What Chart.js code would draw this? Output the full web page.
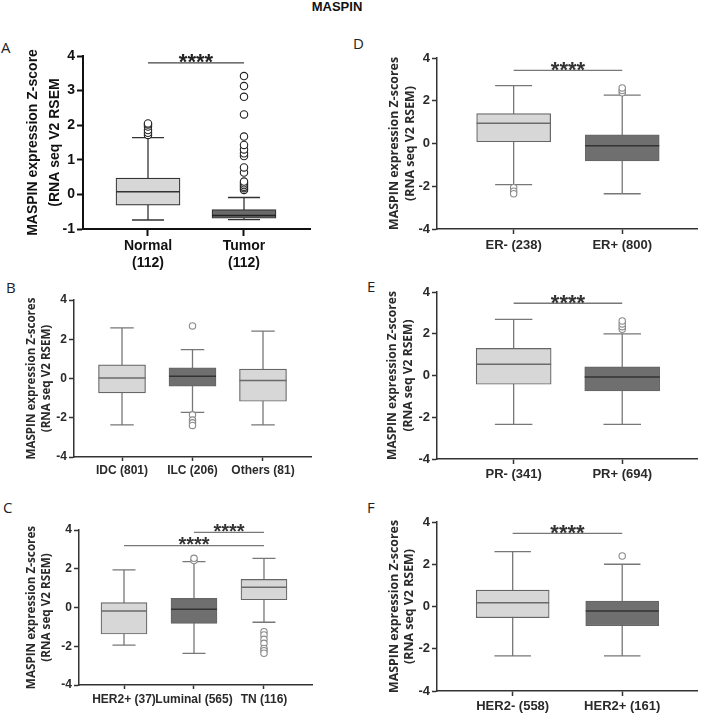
<!DOCTYPE html>
<html>
<head>
<meta charset="utf-8">
<title>MASPIN</title>
<script src="https://cdn.jsdelivr.net/npm/chart.js@4.4.1/dist/chart.umd.min.js"></script>
<style>
  html, body { margin: 0; padding: 0; background: #fff; }
  #fig { position: relative; width: 703px; height: 718px; overflow: hidden; font-family: 'Liberation Sans', Arial, sans-serif; }
  #fig canvas { position: absolute; }
  .main-title { position: absolute; left: 0; top: -1px; width: 674px; text-align: center; font-weight: bold; font-size: 13px; color: #111; }
  .tag { position: absolute; font-family: 'Open Sans', sans-serif; font-size: 15px; color: #222; line-height: 1; }
</style>
</head>
<body>
<div id="fig">
  <div class="main-title">MASPIN</div>
  <div class="tag" style="left:1px;top:40px">A</div>
  <div class="tag" style="left:6px;top:280px">B</div>
  <div class="tag" style="left:3px;top:500px">C</div>
  <div class="tag" style="left:353px;top:36px">D</div>
  <div class="tag" style="left:367px;top:279px">E</div>
  <div class="tag" style="left:367px;top:500px">F</div>
  <canvas id="chartA" width="320" height="256" style="left:0;top:30px"></canvas>
  <canvas id="chartB" width="320" height="205" style="left:0;top:275px"></canvas>
  <canvas id="chartC" width="320" height="218" style="left:0;top:500px"></canvas>
  <canvas id="chartD" width="343" height="230" style="left:360px;top:30px"></canvas>
  <canvas id="chartE" width="343" height="220" style="left:360px;top:265px"></canvas>
  <canvas id="chartF" width="343" height="223" style="left:360px;top:495px"></canvas>
</div>
<script>
/* ---------- data (box = [low whisker, Q1, median, Q3, high whisker]) ---------- */

// A. Normal vs Tumor
const A_LABELS = [['Normal', '(112)'], ['Tumor', '(112)']];
const A_BOXES = [[-0.74, -0.31, 0.08, 0.47, 1.64], [-0.73, -0.69, -0.61, -0.44, -0.09]];
const A_OUTLIERS = [
  [1.72, 1.78, 1.86, 1.96, 2.02, 2.05],
  [0.13, 0.18, 0.22, 0.27, 0.32, 0.37, 0.63, 0.78, 1.11, 1.19, 1.30, 1.43, 1.67, 2.31, 2.82, 3.13, 3.42]
];
const A_SIG = [[0, 1, 3.8]];

// B. histology
const B_LABELS = ['IDC (801)', 'ILC (206)', 'Others (81)'];
const B_BOXES = [[-2.36, -0.73, 0.02, 0.70, 2.58], [-1.73, -0.39, 0.12, 0.55, 1.47], [-2.36, -1.16, -0.10, 0.48, 2.41]];
const B_OUTLIERS = [[], [2.68, -1.85, -2.12, -2.26, -2.39], []];
const B_SIG = [];

// C. subtype
const C_LABELS = ['HER2+ (37)', 'Luminal (565)', 'TN (116)'];
const C_BOXES = [[-1.94, -1.37, -0.18, 0.25, 1.94], [-2.37, -0.82, -0.09, 0.47, 2.37], [-0.76, 0.40, 1.04, 1.45, 2.54]];
const C_OUTLIERS = [[], [2.42, 2.54], [-1.25, -1.42, -1.64, -1.85, -2.11, -2.23, -2.36]];
const C_SIG = [[1, 2, 3.88], [0, 2, 3.19]];

// D. ER status
const D_LABELS = ['ER- (238)', 'ER+ (800)'];
const D_BOXES = [[-1.92, 0.08, 0.95, 1.40, 2.71], [-2.35, -0.81, -0.11, 0.41, 2.26]];
const D_OUTLIERS = [[-2.07, -2.23, -2.35], [2.37, 2.48, 2.60]];
const D_SIG = [[0, 1, 3.42]];

// E. PR status
const E_LABELS = ['PR- (341)', 'PR+ (694)'];
const E_BOXES = [[-2.34, -0.42, 0.54, 1.30, 2.69], [-2.34, -0.74, -0.07, 0.41, 1.99]];
const E_OUTLIERS = [[], [2.21, 2.34, 2.47, 2.61]];
const E_SIG = [[0, 1, 3.46]];

// F. HER2 status
const F_LABELS = ['HER2- (558)', 'HER2+ (161)'];
const F_BOXES = [[-2.34, -0.53, 0.18, 0.78, 2.60], [-2.34, -0.91, -0.21, 0.26, 2.00]];
const F_OUTLIERS = [[], [2.39]];
const F_SIG = [[0, 1, 3.46]];

/* ---------- styles ---------- */
const LIGHT = '#d7d7d7';
const DARK = '#6f6f6f';
const FONT = "'Liberation Sans', Arial, sans-serif";
const TITLE_FONT = "'Open Sans', sans-serif";
const Y_TITLE = ['MASPIN expression Z-scores', '(RNA seq V2 RSEM)'];

const PRISM = { axis: '#111', axisW: 2, text: '#111', box: '#333', whisker: '#333', medLight: '#333', medDark: '#222',
  dot: '#222', dotR: 3.7, sig: '#444', star: '#222' };
const GREY = { axis: '#333', axisW: 1.5, text: '#2a2a2a', box: '#666', whisker: '#777', medLight: '#6a6a6a', medDark: '#333',
  dot: '#8a8a8a', dotR: 3.2, sig: '#777', star: '#333' };

const PANELS = [
  { id: 'chartA', labels: A_LABELS, boxes: A_BOXES, outliers: A_OUTLIERS, sig: A_SIG, fills: [LIGHT, '#6a6a6a'], theme: PRISM,
    pad: { top: 26, right: 10 }, yWidth: 83, xHeight: 57, yMin: -1, yMax: 4, yStep: 1, xRange: [-0.677, 1.6875], boxW: 64,
    title: ['MASPIN expression Z-score', '(RNA seq V2 RSEM'], titleFont: FONT, titleSize: 14, titleLH: 22, titlePad: 22,
    tickSize: 14, yTick: [6, 2], xTick: [7, 1], starSize: 22 },
  { id: 'chartB', labels: B_LABELS, boxes: B_BOXES, outliers: B_OUTLIERS, sig: B_SIG, fills: [LIGHT, DARK, LIGHT], theme: GREY,
    pad: { top: 25, right: 9 }, yWidth: 74, xHeight: 23, yMin: -4, yMax: 4, yStep: 2, xRange: [-0.681, 2.681], boxW: 47,
    title: Y_TITLE, titleFont: TITLE_FONT, titleSize: 11.6, titleLH: 15, titlePad: 24.5, tickSize: 12, yTick: [5, 2], xTick: [4, 2], starSize: 20 },
  { id: 'chartC', labels: C_LABELS, boxes: C_BOXES, outliers: C_OUTLIERS, sig: C_SIG, fills: [LIGHT, DARK, LIGHT], theme: GREY,
    pad: { top: 30, right: 8 }, yWidth: 79, xHeight: 33, yMin: -4, yMax: 4, yStep: 2, xRange: [-0.643, 2.686], boxW: 46,
    title: Y_TITLE, titleFont: TITLE_FONT, titleSize: 11.7, titleLH: 15, titlePad: 24.5, tickSize: 12, yTick: [5, 2], xTick: [4, 3], starSize: 20 },
  { id: 'chartD', labels: D_LABELS, boxes: D_BOXES, outliers: D_OUTLIERS, sig: D_SIG, fills: [LIGHT, DARK], theme: GREY,
    pad: { top: 28, right: 4 }, yWidth: 77, xHeight: 31, yMin: -4, yMax: 4, yStep: 2, xRange: [-0.706, 1.697], boxW: 74,
    title: Y_TITLE, titleFont: TITLE_FONT, titleSize: 12.4, titleLH: 15.5, titlePad: 27, tickSize: 13, yTick: [5, 2], xTick: [5, 3], starSize: 22 },
  { id: 'chartE', labels: E_LABELS, boxes: E_BOXES, outliers: E_OUTLIERS, sig: E_SIG, fills: [LIGHT, DARK], theme: GREY,
    pad: { top: 27, right: 4 }, yWidth: 77, xHeight: 26, yMin: -4, yMax: 4, yStep: 2, xRange: [-0.706, 1.697], boxW: 75,
    title: Y_TITLE, titleFont: TITLE_FONT, titleSize: 12.1, titleLH: 16, titlePad: 25, tickSize: 13, yTick: [5, 2], xTick: [5, 2], starSize: 22 },
  { id: 'chartF', labels: F_LABELS, boxes: F_BOXES, outliers: F_OUTLIERS, sig: F_SIG, fills: [LIGHT, DARK], theme: GREY,
    pad: { top: 27, right: 4 }, yWidth: 77, xHeight: 27, yMin: -4, yMax: 4, yStep: 2, xRange: [-0.691, 1.691], boxW: 73,
    title: Y_TITLE, titleFont: TITLE_FONT, titleSize: 12.4, titleLH: 15, titlePad: 26.5, tickSize: 13, yTick: [5, 2], xTick: [5, 2], starSize: 22 }
];

// dataset order inside each chart
const OUTLIER_SET = 0;
const BOX_SET = 1;

/* ---------- whiskers, medians and significance bars ---------- */
function boxPlugin(p) {
  const t = p.theme;
  return {
    id: 'boxWhisker',
    beforeDatasetsDraw(chart) {
      const ctx = chart.ctx, y = chart.scales.y;
      const meta = chart.getDatasetMeta(BOX_SET);
      ctx.save();
      ctx.strokeStyle = t.whisker;
      ctx.lineWidth = 1.3;
      meta.data.forEach((bar, i) => {
        const lo = p.boxes[i][0], hi = p.boxes[i][4];
        const cap = bar.width / 4;
        ctx.beginPath();
        ctx.moveTo(bar.x, y.getPixelForValue(lo));
        ctx.lineTo(bar.x, y.getPixelForValue(hi));
        [lo, hi].forEach(v => {
          const py = y.getPixelForValue(v);
          ctx.moveTo(bar.x - cap, py);
          ctx.lineTo(bar.x + cap, py);
        });
        ctx.stroke();
      });
      ctx.restore();
    },
    afterDatasetsDraw(chart) {
      const ctx = chart.ctx, x = chart.scales.x, y = chart.scales.y;
      const meta = chart.getDatasetMeta(BOX_SET);
      ctx.save();
      ctx.lineWidth = 1.5;
      meta.data.forEach((bar, i) => {
        const py = y.getPixelForValue(p.boxes[i][2]);
        ctx.strokeStyle = p.fills[i] === LIGHT ? t.medLight : t.medDark;
        ctx.beginPath();
        ctx.moveTo(bar.x - bar.width / 2, py);
        ctx.lineTo(bar.x + bar.width / 2, py);
        ctx.stroke();
      });
      // significance bars with stars centred above them
      p.sig.forEach(([a, b, v]) => {
        const x0 = x.getPixelForValue(a), x1 = x.getPixelForValue(b), py = y.getPixelForValue(v);
        ctx.strokeStyle = t.sig;
        ctx.lineWidth = 1.3;
        ctx.beginPath();
        ctx.moveTo(x0, py);
        ctx.lineTo(x1, py);
        ctx.stroke();
        ctx.fillStyle = t.star;
        ctx.font = 'bold ' + p.starSize + 'px ' + FONT;
        ctx.textAlign = 'center';
        ctx.textBaseline = 'alphabetic';
        ctx.fillText('****', (x0 + x1) / 2, py + p.starSize * 0.57 - 6);
      });
      ctx.restore();
    }
  };
}

function buildChart(p) {
  const t = p.theme;
  const outlierPts = [];
  p.outliers.forEach((list, i) => list.forEach(v => outlierPts.push({ x: i, y: v })));

  const datasets = [];
  datasets[OUTLIER_SET] = {
    type: 'scatter',
    data: outlierPts,
    pointStyle: 'circle',
    pointRadius: t.dotR,
    pointBackgroundColor: '#fff',
    pointBorderColor: t.dot,
    pointBorderWidth: 1.1
  };
  datasets[BOX_SET] = {
    data: p.boxes.map((b, i) => ({ x: i, y: [b[1], b[3]] })),
    backgroundColor: p.fills,
    borderColor: t.box,
    borderWidth: 1.2,
    borderSkipped: false,
    barThickness: p.boxW
  };

  return new Chart(document.getElementById(p.id), {
    type: 'bar',
    data: { datasets },
    options: {
      responsive: false,
      animation: false,
      events: [],
      layout: { padding: { top: p.pad.top, right: p.pad.right, left: 0, bottom: 0 } },
      plugins: { legend: { display: false }, tooltip: { enabled: false } },
      scales: {
        x: {
          type: 'linear',
          offset: false,
          min: p.xRange[0],
          max: p.xRange[1],
          afterBuildTicks: (s) => { s.ticks = p.labels.map((_, i) => ({ value: i })); },
          afterFit: (s) => { s.height = p.xHeight; },
          ticks: {
            autoSkip: false,
            maxRotation: 0,
            padding: p.xTick[1],
            color: t.text,
            font: { family: FONT, size: p.tickSize, weight: 'bold', lineHeight: 1.25 },
            callback: (v) => p.labels[v]
          },
          grid: { offset: false, drawOnChartArea: false, drawTicks: true, tickLength: p.xTick[0], tickColor: t.axis, tickWidth: t.axisW },
          border: { display: true, color: t.axis, width: t.axisW }
        },
        y: {
          type: 'linear',
          min: p.yMin,
          max: p.yMax,
          afterFit: (s) => { s.width = p.yWidth; },
          ticks: {
            stepSize: p.yStep,
            padding: p.yTick[1],
            color: t.text,
            font: { family: FONT, size: p.tickSize, weight: 'bold' }
          },
          grid: { drawOnChartArea: false, drawTicks: true, tickLength: p.yTick[0], tickColor: t.axis, tickWidth: t.axisW },
          border: { display: true, color: t.axis, width: t.axisW },
          title: {
            display: true,
            text: p.title,
            color: t.text,
            padding: { top: p.titlePad, bottom: 0 },
            font: { family: p.titleFont, size: p.titleSize, weight: 'bold', lineHeight: p.titleLH + 'px' }
          }
        }
      }
    },
    plugins: [boxPlugin(p)]
  });
}

PANELS.forEach(buildChart);
</script>
</body>
</html>
